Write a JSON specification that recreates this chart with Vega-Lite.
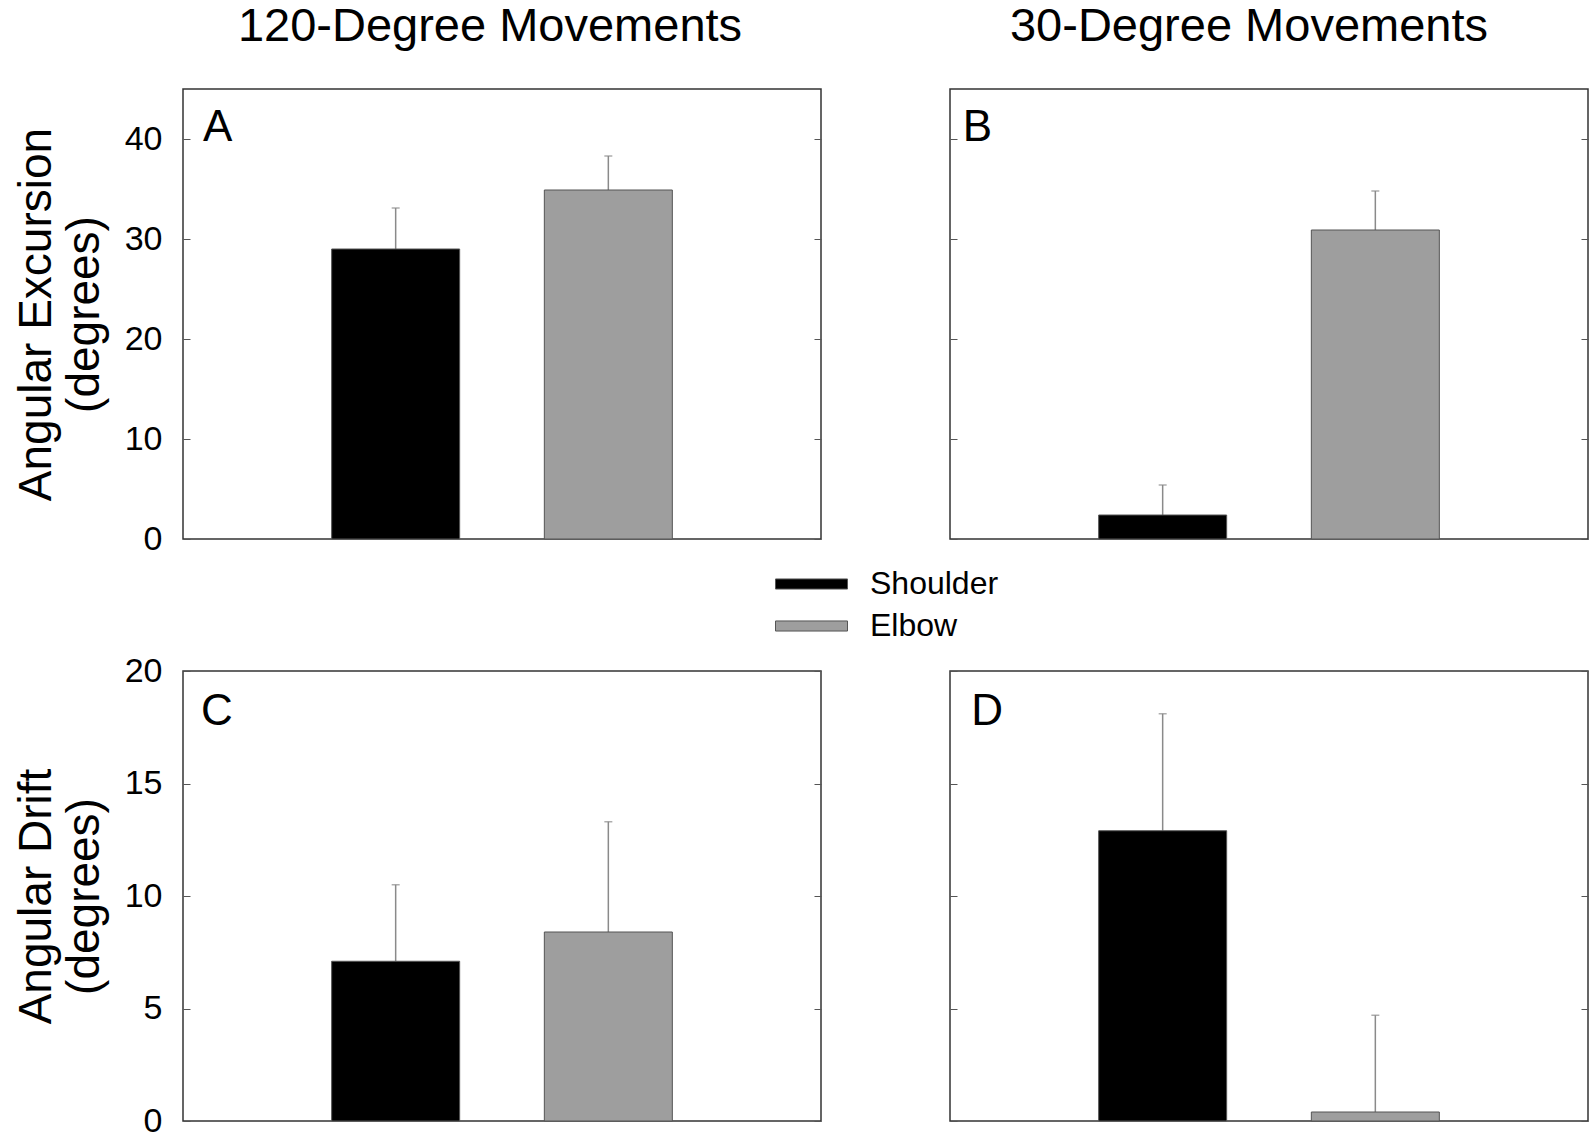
{
  "$schema": "https://vega.github.io/schema/vega-lite/v6.json",
  "padding": {"left": 12, "top": 2, "right": 0, "bottom": 0},
  "background": "white",
  "config": {
    "font": "Liberation Sans",
    "view": {"stroke": "#333333", "strokeWidth": 1.5},
    "axis": {"grid": false, "domain": false, "tickColor": "#555555", "tickWidth": 1, "labelColor": "black", "titleColor": "black", "labelFont": "Liberation Sans", "titleFont": "Liberation Sans"},
    "title": {"font": "Liberation Sans", "fontWeight": "normal", "color": "black"}
  },
  "datasets": {
    "bars": [
      {"panel": "A", "joint": "Shoulder", "pos": 1, "value": 29.0, "upper": 33.1},
      {"panel": "A", "joint": "Elbow", "pos": 2, "value": 34.9, "upper": 38.3},
      {"panel": "B", "joint": "Shoulder", "pos": 1, "value": 2.4, "upper": 5.4},
      {"panel": "B", "joint": "Elbow", "pos": 2, "value": 30.9, "upper": 34.8},
      {"panel": "C", "joint": "Shoulder", "pos": 1, "value": 7.1, "upper": 10.5},
      {"panel": "C", "joint": "Elbow", "pos": 2, "value": 8.4, "upper": 13.3},
      {"panel": "D", "joint": "Shoulder", "pos": 1, "value": 12.9, "upper": 18.1},
      {"panel": "D", "joint": "Elbow", "pos": 2, "value": 0.4, "upper": 4.7}
    ]
  },
  "columns": 2,
  "spacing": {"row": 132, "column": 129},
  "bounds": "flush",
  "concat": [
    {
      "width": 638, "height": 450,
      "title": {"text": "120-Degree Movements", "fontSize": 47, "offset": 38, "dx": -12, "anchor": "middle"},
      "data": {"name": "bars"},
      "transform": [{"filter": "datum.panel === 'A'"}],
      "resolve": {"axis": {"y": "independent"}},
      "layer": [
        {"mark": {"type": "rule", "color": "#8a8a8a", "strokeWidth": 1.5},
         "encoding": {
           "x": {"field": "pos", "type": "quantitative", "scale": {"domain": [0, 3], "padding": 0, "nice": false, "zero": false}, "axis": null},
           "y": {"field": "value", "type": "quantitative", "scale": {"domain": [0, 45], "nice": false},
                 "axis": {"orient": "left", "values": [0, 10, 20, 30, 40], "tickSize": -7, "labelFontSize": 34, "labelPadding": 28, "title": ["Angular Excursion", "(degrees)"], "titleFontSize": 46, "titleFontWeight": "normal", "titlePadding": 16}},
           "y2": {"field": "upper"}}},
        {"mark": {"type": "tick", "orient": "horizontal", "size": 8, "thickness": 1.5, "color": "#8a8a8a"},
         "encoding": {
           "x": {"field": "pos", "type": "quantitative", "axis": null},
           "y": {"field": "upper", "type": "quantitative", "axis": {"orient": "right", "values": [0, 10, 20, 30, 40], "tickSize": -7, "labels": false, "title": null}}}},
        {"mark": {"type": "bar", "size": 128, "stroke": "#555555", "strokeWidth": 1},
         "encoding": {
           "x": {"field": "pos", "type": "quantitative", "axis": null},
           "y": {"field": "value", "type": "quantitative", "axis": null},
           "color": {"field": "joint", "type": "nominal", "scale": {"domain": ["Shoulder", "Elbow"], "range": ["#000000", "#9e9e9e"]},
                     "legend": {"orient": "none", "legendX": 592, "legendY": 476, "title": null, "labelFontSize": 32, "labelFont": "Liberation Sans", "labelColor": "black", "symbolType": "M-1,-0.14L1,-0.14L1,0.14L-1,0.14Z", "symbolSize": 5184, "symbolStrokeWidth": 1, "labelOffset": 22, "rowPadding": 4, "clipHeight": 38}}}},
        {"transform": [{"filter": "datum.joint === 'Shoulder'"}],
         "mark": {"type": "text", "align": "left", "baseline": "alphabetic", "fontSize": 44, "color": "black"},
         "encoding": {"x": {"datum": 0.094}, "y": {"datum": 39.8, "axis": null}, "text": {"value": "A"}}}
      ]
    },
    {
      "width": 638, "height": 450,
      "title": {"text": "30-Degree Movements", "fontSize": 47, "offset": 38, "dx": -20, "anchor": "middle"},
      "data": {"name": "bars"},
      "transform": [{"filter": "datum.panel === 'B'"}],
      "resolve": {"axis": {"y": "independent"}},
      "layer": [
        {"mark": {"type": "rule", "color": "#8a8a8a", "strokeWidth": 1.5},
         "encoding": {
           "x": {"field": "pos", "type": "quantitative", "scale": {"domain": [0, 3], "padding": 0, "nice": false, "zero": false}, "axis": null},
           "y": {"field": "value", "type": "quantitative", "scale": {"domain": [0, 45], "nice": false},
                 "axis": {"orient": "left", "values": [0, 10, 20, 30, 40], "tickSize": -7, "labels": false, "title": null}},
           "y2": {"field": "upper"}}},
        {"mark": {"type": "tick", "orient": "horizontal", "size": 8, "thickness": 1.5, "color": "#8a8a8a"},
         "encoding": {
           "x": {"field": "pos", "type": "quantitative", "axis": null},
           "y": {"field": "upper", "type": "quantitative", "axis": {"orient": "right", "values": [0, 10, 20, 30, 40], "tickSize": -7, "labels": false, "title": null}}}},
        {"mark": {"type": "bar", "size": 128, "stroke": "#555555", "strokeWidth": 1},
         "encoding": {
           "x": {"field": "pos", "type": "quantitative", "axis": null},
           "y": {"field": "value", "type": "quantitative", "axis": null},
           "color": {"field": "joint", "type": "nominal", "scale": {"domain": ["Shoulder", "Elbow"], "range": ["#000000", "#9e9e9e"]},
                     "legend": {"orient": "none", "legendX": 592, "legendY": 476, "title": null, "labelFontSize": 32, "labelFont": "Liberation Sans", "labelColor": "black", "symbolType": "M-1,-0.14L1,-0.14L1,0.14L-1,0.14Z", "symbolSize": 5184, "symbolStrokeWidth": 1, "labelOffset": 22, "rowPadding": 4, "clipHeight": 38}}}},
        {"transform": [{"filter": "datum.joint === 'Shoulder'"}],
         "mark": {"type": "text", "align": "left", "baseline": "alphabetic", "fontSize": 44, "color": "black"},
         "encoding": {"x": {"datum": 0.06}, "y": {"datum": 39.8, "axis": null}, "text": {"value": "B"}}}
      ]
    },
    {
      "width": 638, "height": 450,
      "data": {"name": "bars"},
      "transform": [{"filter": "datum.panel === 'C'"}],
      "resolve": {"axis": {"y": "independent"}},
      "layer": [
        {"mark": {"type": "rule", "color": "#8a8a8a", "strokeWidth": 1.5},
         "encoding": {
           "x": {"field": "pos", "type": "quantitative", "scale": {"domain": [0, 3], "padding": 0, "nice": false, "zero": false}, "axis": null},
           "y": {"field": "value", "type": "quantitative", "scale": {"domain": [0, 20], "nice": false},
                 "axis": {"orient": "left", "values": [0, 5, 10, 15, 20], "tickSize": -7, "labelFontSize": 34, "labelPadding": 28, "title": ["Angular Drift", "(degrees)"], "titleFontSize": 46, "titleFontWeight": "normal", "titlePadding": 16}},
           "y2": {"field": "upper"}}},
        {"mark": {"type": "tick", "orient": "horizontal", "size": 8, "thickness": 1.5, "color": "#8a8a8a"},
         "encoding": {
           "x": {"field": "pos", "type": "quantitative", "axis": null},
           "y": {"field": "upper", "type": "quantitative", "axis": {"orient": "right", "values": [0, 5, 10, 15, 20], "tickSize": -7, "labels": false, "title": null}}}},
        {"mark": {"type": "bar", "size": 128, "stroke": "#555555", "strokeWidth": 1},
         "encoding": {
           "x": {"field": "pos", "type": "quantitative", "axis": null},
           "y": {"field": "value", "type": "quantitative", "axis": null},
           "color": {"field": "joint", "type": "nominal", "scale": {"domain": ["Shoulder", "Elbow"], "range": ["#000000", "#9e9e9e"]},
                     "legend": {"orient": "none", "legendX": 592, "legendY": 476, "title": null, "labelFontSize": 32, "labelFont": "Liberation Sans", "labelColor": "black", "symbolType": "M-1,-0.14L1,-0.14L1,0.14L-1,0.14Z", "symbolSize": 5184, "symbolStrokeWidth": 1, "labelOffset": 22, "rowPadding": 4, "clipHeight": 38}}}},
        {"transform": [{"filter": "datum.joint === 'Shoulder'"}],
         "mark": {"type": "text", "align": "left", "baseline": "alphabetic", "fontSize": 44, "color": "black"},
         "encoding": {"x": {"datum": 0.085}, "y": {"datum": 17.6, "axis": null}, "text": {"value": "C"}}}
      ]
    },
    {
      "width": 638, "height": 450,
      "data": {"name": "bars"},
      "transform": [{"filter": "datum.panel === 'D'"}],
      "resolve": {"axis": {"y": "independent"}},
      "layer": [
        {"mark": {"type": "rule", "color": "#8a8a8a", "strokeWidth": 1.5},
         "encoding": {
           "x": {"field": "pos", "type": "quantitative", "scale": {"domain": [0, 3], "padding": 0, "nice": false, "zero": false}, "axis": null},
           "y": {"field": "value", "type": "quantitative", "scale": {"domain": [0, 20], "nice": false},
                 "axis": {"orient": "left", "values": [0, 5, 10, 15, 20], "tickSize": -7, "labels": false, "title": null}},
           "y2": {"field": "upper"}}},
        {"mark": {"type": "tick", "orient": "horizontal", "size": 8, "thickness": 1.5, "color": "#8a8a8a"},
         "encoding": {
           "x": {"field": "pos", "type": "quantitative", "axis": null},
           "y": {"field": "upper", "type": "quantitative", "axis": {"orient": "right", "values": [0, 5, 10, 15, 20], "tickSize": -7, "labels": false, "title": null}}}},
        {"mark": {"type": "bar", "size": 128, "stroke": "#555555", "strokeWidth": 1},
         "encoding": {
           "x": {"field": "pos", "type": "quantitative", "axis": null},
           "y": {"field": "value", "type": "quantitative", "axis": null},
           "color": {"field": "joint", "type": "nominal", "scale": {"domain": ["Shoulder", "Elbow"], "range": ["#000000", "#9e9e9e"]},
                     "legend": {"orient": "none", "legendX": 592, "legendY": 476, "title": null, "labelFontSize": 32, "labelFont": "Liberation Sans", "labelColor": "black", "symbolType": "M-1,-0.14L1,-0.14L1,0.14L-1,0.14Z", "symbolSize": 5184, "symbolStrokeWidth": 1, "labelOffset": 22, "rowPadding": 4, "clipHeight": 38}}}},
        {"transform": [{"filter": "datum.joint === 'Shoulder'"}],
         "mark": {"type": "text", "align": "left", "baseline": "alphabetic", "fontSize": 44, "color": "black"},
         "encoding": {"x": {"datum": 0.1}, "y": {"datum": 17.6, "axis": null}, "text": {"value": "D"}}}
      ]
    }
  ]
}
